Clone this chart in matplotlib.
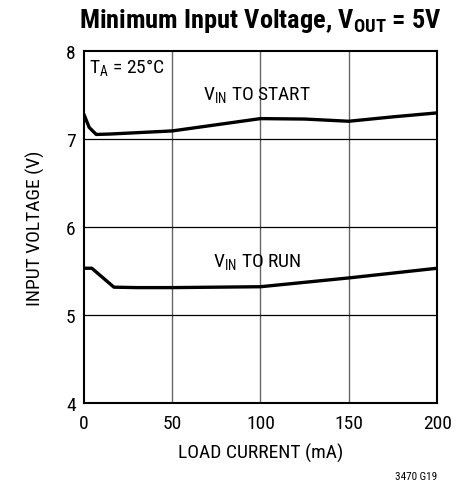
import matplotlib
matplotlib.use("Agg")
import matplotlib.pyplot as plt
from matplotlib import font_manager

# Condensed sans to mimic the datasheet's Helvetica Narrow
names = {f.name for f in font_manager.fontManager.ttflist}
FONT = "Roboto Condensed" if "Roboto Condensed" in names else "Liberation Sans"
plt.rcParams["font.family"] = [FONT, "DejaVu Sans"]
plt.rcParams["mathtext.fontset"] = "custom"
plt.rcParams["mathtext.rm"] = FONT
plt.rcParams["mathtext.bf"] = FONT + ":bold"

# Load current (mA) vs minimum input voltage (V)
start_current = [0, 3, 7, 15, 30, 50, 75, 100, 125, 150, 175, 200]
start_voltage = [7.28, 7.13, 7.05, 7.055, 7.07, 7.09, 7.16, 7.23, 7.225, 7.20, 7.25, 7.295]

run_current = [0, 4.5, 17, 30, 50, 100, 150, 200]
run_voltage = [5.53, 5.53, 5.315, 5.31, 5.31, 5.32, 5.42, 5.53]

x_ticks = [0, 50, 100, 150, 200]
y_ticks = [4, 5, 6, 7, 8]

fig = plt.figure(figsize=(4.66, 4.89), dpi=100)
ax = fig.add_axes([0.180, 0.174, 0.758, 0.720])

ax.plot(start_current, start_voltage, color="black", lw=2.4, solid_capstyle="round")
ax.plot(run_current, run_voltage, color="black", lw=2.4, solid_capstyle="round")

ax.set_xlim(0, 200)
ax.set_ylim(4, 8)
ax.set_xticks(x_ticks)
ax.set_yticks(y_ticks)
ax.tick_params(length=0, labelsize=14)
ax.tick_params(axis="x", pad=8)
ax.tick_params(axis="y", pad=6)

for x in x_ticks[1:-1]:
    ax.axvline(x, color="#666666", lw=1.0, zorder=0)
for y in y_ticks[1:-1]:
    ax.axhline(y, color="black", lw=0.9, zorder=0)
for s in ax.spines.values():
    s.set_linewidth(1.5)

ax.set_xlabel("LOAD CURRENT (mA)", fontsize=14, labelpad=8)
ax.set_ylabel("INPUT VOLTAGE (V)", fontsize=14, labelpad=15)

ax.text(3, 7.93, r"T$_\mathregular{A}$ = 25°C", fontsize=14, va="top", ha="left")
ax.text(98, 7.5, r"V$_\mathregular{IN}$ TO START", fontsize=14, va="center", ha="center")
ax.text(98, 5.6, r"V$_\mathregular{IN}$ TO RUN", fontsize=14, va="center", ha="center")

fig.text(0.559, 0.958, r"Minimum Input Voltage, V$_\mathbf{OUT}$ = 5V",
         fontsize=19, fontweight="bold", ha="center", va="center")
fig.text(0.938, 0.015, "3470 G19", fontsize=8, ha="right", va="bottom")

fig.savefig("out.png", dpi=100)
